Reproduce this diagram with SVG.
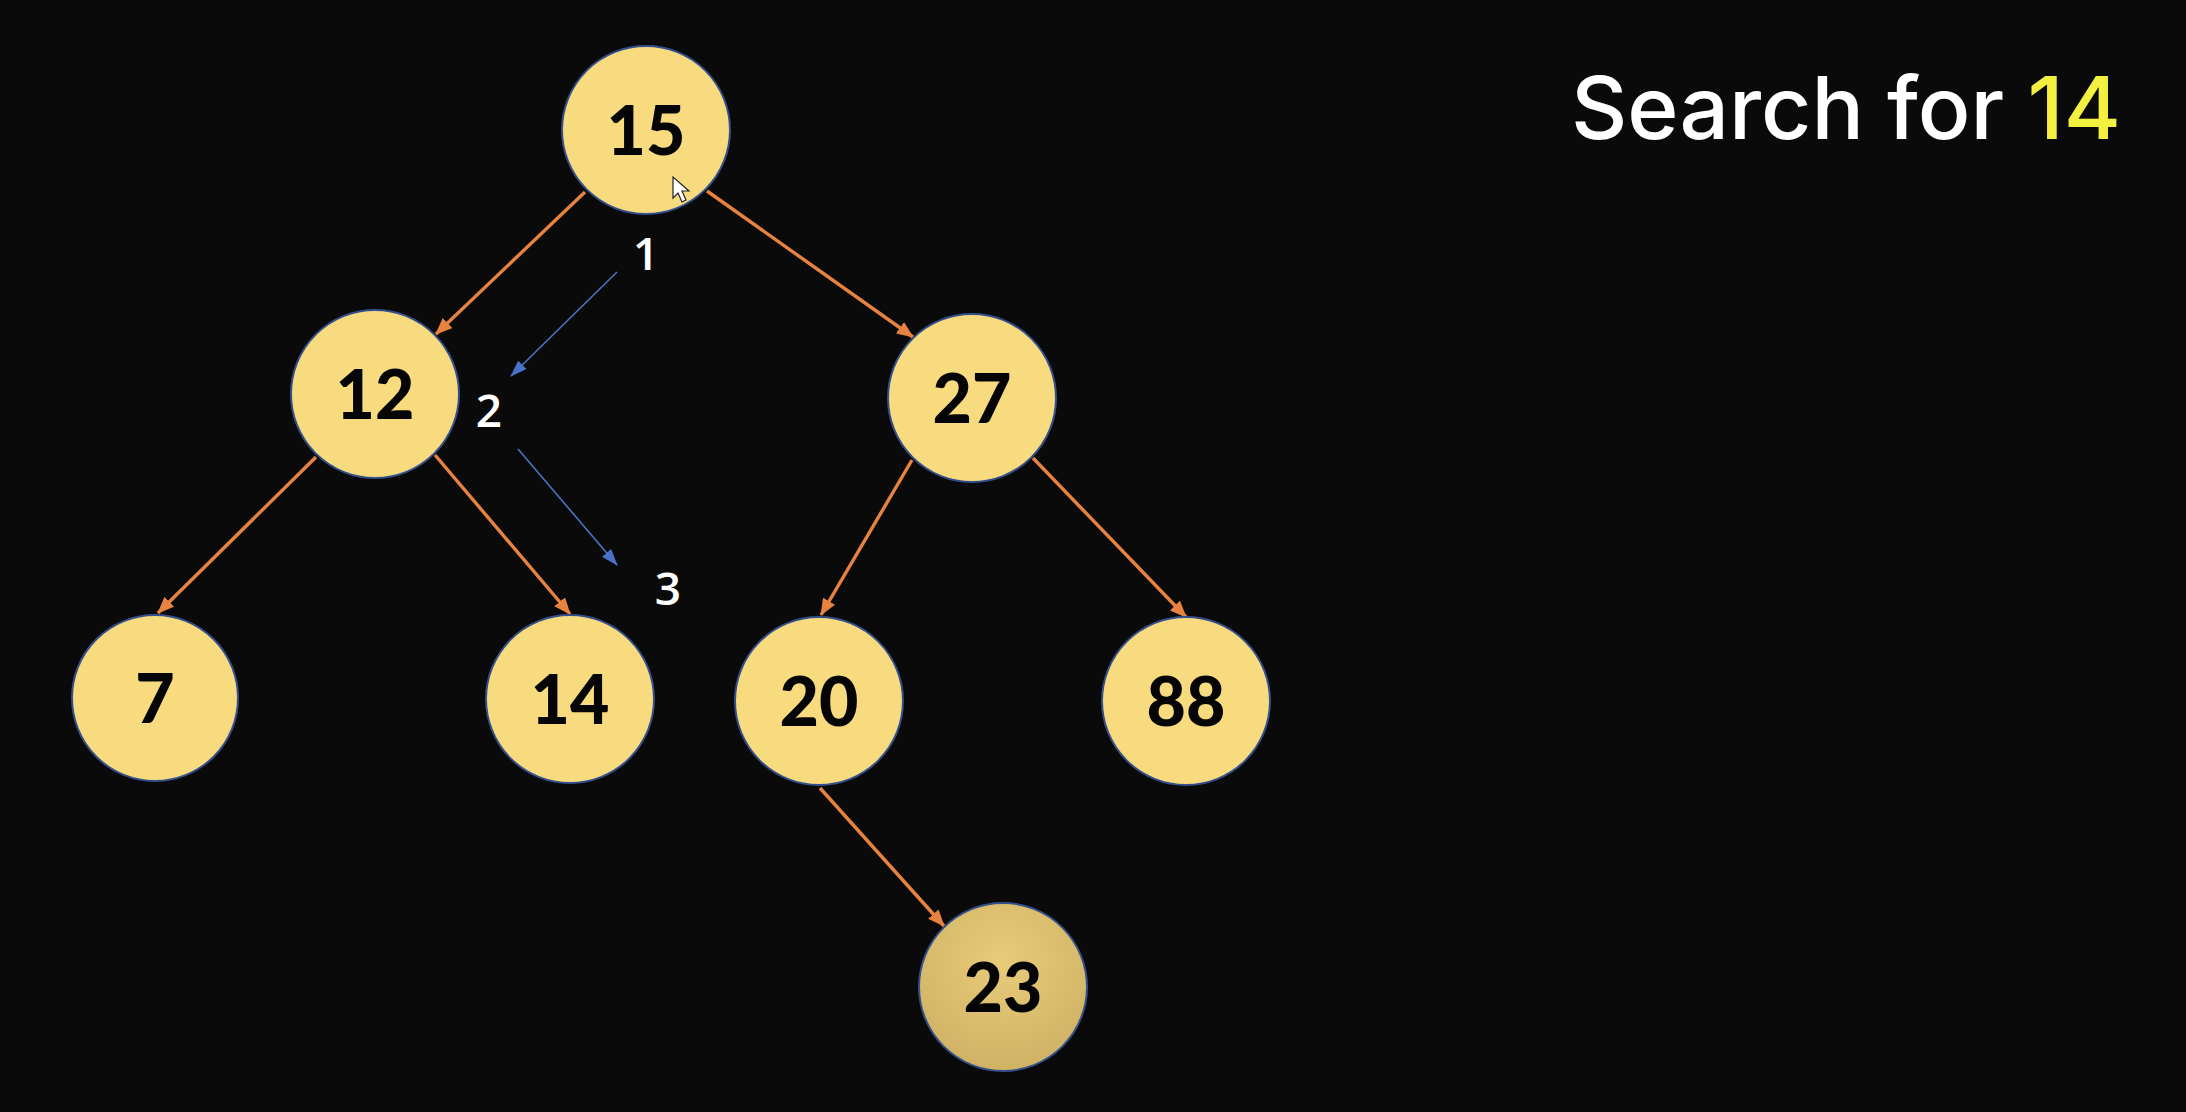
<svg xmlns="http://www.w3.org/2000/svg" width="2186" height="1112" viewBox="0 0 2186 1112">
  <defs>
    <marker id="arrowOrange" markerUnits="userSpaceOnUse" markerWidth="18" markerHeight="14" refX="16" refY="7" orient="auto">
      <path d="M0,0 L17,7 L0,14 Z" fill="#E8823F"/>
    </marker>
    <marker id="arrowBlue" markerUnits="userSpaceOnUse" markerWidth="18" markerHeight="14" refX="16" refY="7" orient="auto">
      <path d="M0,1 L17,7 L0,13 Z" fill="#4A72C8"/>
    </marker>
    <radialGradient id="goldFill" cx="0.5" cy="0.35" r="0.7">
      <stop offset="0" stop-color="#E9CC7A"/>
      <stop offset="1" stop-color="#CDB062"/>
    </radialGradient>
    <style>
      .node circle { fill: #F8DB7F; stroke: #34508C; stroke-width: 2; }
      .node text { font-family: Lato, "Open Sans", sans-serif; font-weight: 900; font-size: 68px; fill: #050505; text-anchor: middle; }
      .edge { stroke: #E8823F; stroke-width: 3.4; fill: none; marker-end: url(#arrowOrange); }
      .step { stroke: #4A72C8; stroke-width: 1.6; fill: none; marker-end: url(#arrowBlue); }
      .stepLabel { font-family: "Open Sans", "Noto Sans", sans-serif; font-weight: 600; font-size: 46px; fill: #FFFFFF; text-anchor: middle; }
      .title { font-family: Inter, "Open Sans", sans-serif; font-weight: 500; font-size: 86px; fill: #FFFFFF; }
    </style>
  </defs>

  <rect width="2186" height="1112" fill="#0A0A0A"/>

  <!-- tree edges and search-path arrows -->
  <g id="connectors">
    <line class="edge" x1="585" y1="192" x2="436" y2="334"/>
    <line class="edge" x1="707" y1="191" x2="913" y2="337"/>
    <line class="edge" x1="316" y1="457" x2="158" y2="613"/>
    <line class="edge" x1="435" y1="455" x2="570" y2="614"/>
    <line class="edge" x1="912" y1="460" x2="821" y2="615"/>
    <line class="edge" x1="1033" y1="458" x2="1186" y2="617"/>
    <line class="edge" x1="820" y1="788" x2="944" y2="926"/>
    <line class="step" x1="617" y1="272" x2="511" y2="376"/>
    <line class="step" x1="518" y1="449" x2="617" y2="565"/>
  </g>

  <g id="node-15" class="node">
    <circle cx="646" cy="130" r="84"/>
    <text x="646" y="155">15</text>
  </g>
  <g id="node-12" class="node">
    <circle cx="375" cy="394" r="84"/>
    <text x="375" y="419">12</text>
  </g>
  <g id="node-27" class="node">
    <circle cx="972" cy="398" r="84"/>
    <text x="972" y="423">27</text>
  </g>
  <g id="node-7" class="node">
    <circle cx="155" cy="698" r="83"/>
    <text x="155" y="723">7</text>
  </g>
  <g id="node-14" class="node">
    <circle cx="570" cy="699" r="84"/>
    <text x="570" y="724">14</text>
  </g>
  <g id="node-20" class="node">
    <circle cx="819" cy="701" r="84"/>
    <text x="819" y="726">20</text>
  </g>
  <g id="node-88" class="node">
    <circle cx="1186" cy="701" r="84"/>
    <text x="1186" y="726">88</text>
  </g>
  <g id="node-23" class="node">
    <circle cx="1003" cy="987" r="84" style="fill:url(#goldFill)"/>
    <text x="1003" y="1012">23</text>
  </g>

  <!-- search step numbers -->
  <g id="steps">
    <text class="stepLabel" x="646" y="270">1</text>
    <text class="stepLabel" x="489" y="427">2</text>
    <text class="stepLabel" x="668" y="605">3</text>
  </g>

  <text id="title" class="title" x="1571" y="139" textLength="550" lengthAdjust="spacingAndGlyphs">Search for <tspan fill="#F3F040">14</tspan></text>

  <!-- mouse pointer -->
  <path d="M673,177 L673,198 L678,193 L682,202 L686,200 L682,191 L689,191 Z" fill="#FFFFFF" stroke="#222222" stroke-width="1.2"/>
</svg>
